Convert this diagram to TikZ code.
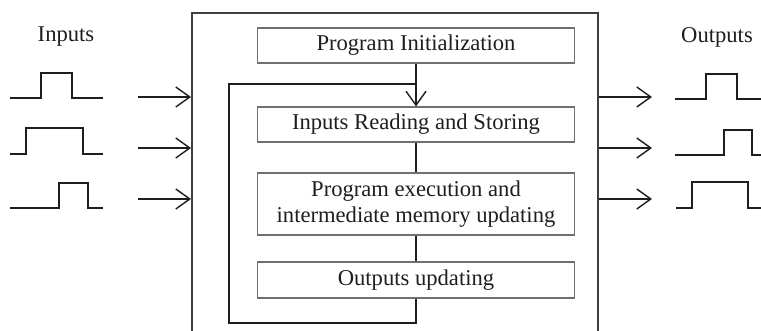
\documentclass[tikz,border=0pt]{standalone}
\usepackage{fontspec}
\setmainfont{Liberation Serif}
\usetikzlibrary{arrows.meta}
\definecolor{boxgray}{HTML}{707070}
\definecolor{ink}{HTML}{1E1E1E}
\begin{document}
\begin{tikzpicture}[x=1pt,y=-1pt,
  stepbox/.style={draw=boxgray,line width=1.1pt,minimum width=317pt,inner sep=0pt,align=center,text=ink,font=\fontsize{22.6}{26.5}\selectfont},
  lbl/.style={text=ink,font=\fontsize{22.6}{26.5}\selectfont,inner sep=0pt},
  conn/.style={draw=ink,line width=1.4pt},
  arr/.style={conn,-{Straight Barb[length=14pt,width=20pt,line width=1.4pt]}},
  wave/.style={draw=ink,line width=1.4pt,line join=miter}]
\useasboundingbox (0,0) rectangle (761,331);
% outer frame
\draw[draw=ink!85,line width=1.3pt] (192,331) -- (192,13) -- (598,13) -- (598,331);
% steps
\node[stepbox,minimum height=35pt] (pi) at (416,45.5) {Program Initialization};
\node[stepbox,minimum height=35pt] (ir) at (416,124.5) {Inputs Reading and Storing};
\node[stepbox,minimum height=62pt] (pe) at (416,204) {Program execution and\\intermediate memory updating};
\node[stepbox,minimum height=36pt] (ou) at (416,280) {Outputs updating};
% connectors
\coordinate (join) at (416,84);
\coordinate (lb) at (229,323);
\draw[arr] (pi.south) -- (ir.north);
\draw[conn] (ir.south) -- (pe.north);
\draw[conn] (pe.south) -- (ou.north);
\draw[conn] (ou.south) |- (lb) |- (join);
% labels
\node[lbl] (inl) at (66,37) {Inputs};
\node[lbl] (outl) at (717,37) {Outputs};
% input arrows
\foreach \y/\n in {97/a,148/b,199/c}{
  \coordinate (is\n) at (138,\y);
  \coordinate (ie\n) at (191,\y);
  \coordinate (os\n) at (599,\y);
  \coordinate (oe\n) at (652,\y);
  \draw[arr] (is\n) -- (ie\n);
  \draw[arr] (os\n) -- (oe\n);
}
% input waveforms
\draw[wave] (10,98) -- (41,98) -- (41,73) -- (72,73) -- (72,98) -- (103,98);
\draw[wave] (10,154) -- (26,154) -- (26,128) -- (83,128) -- (83,154) -- (103,154);
\draw[wave] (10,208) -- (59,208) -- (59,183) -- (88,183) -- (88,208) -- (103,208);
% output waveforms
\draw[wave] (675,99) -- (706,99) -- (706,74) -- (737,74) -- (737,99) -- (761,99);
\draw[wave] (675,155) -- (724,155) -- (724,130) -- (752,130) -- (752,155) -- (761,155);
\draw[wave] (676,208) -- (692,208) -- (692,182) -- (748,182) -- (748,208) -- (761,208);
\end{tikzpicture}
\end{document}
